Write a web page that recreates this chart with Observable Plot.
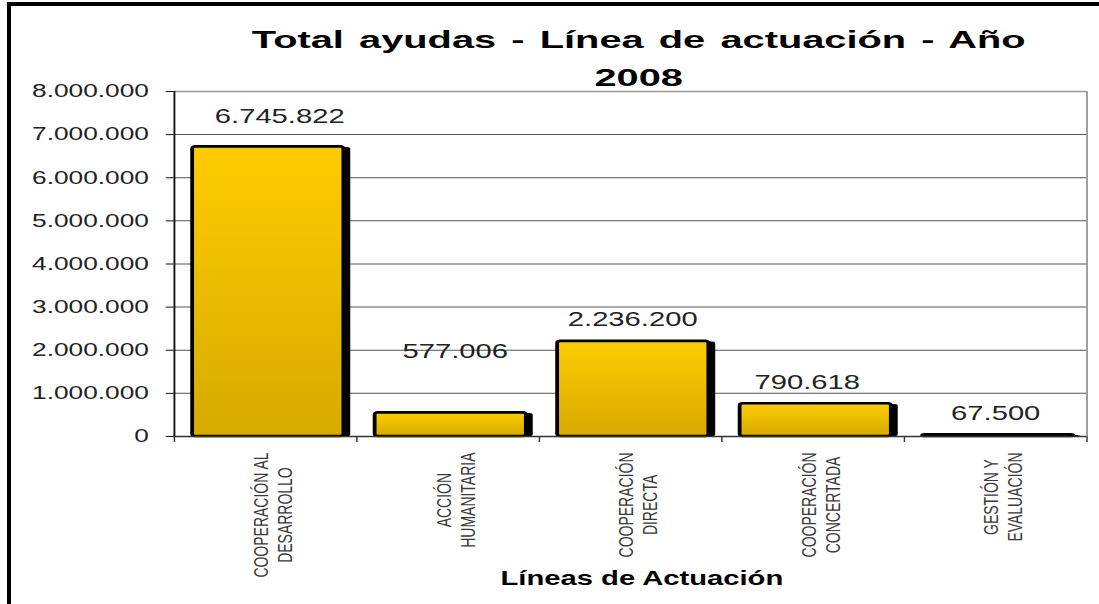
<!DOCTYPE html>
<html><head><meta charset="utf-8">
<script src="https://cdn.jsdelivr.net/npm/d3@7"></script>
<script src="https://cdn.jsdelivr.net/npm/@observablehq/plot@0.6"></script>
<style>
html,body{margin:0;padding:0;background:#fff;overflow:hidden;width:1099px;height:604px;}
#wrap{position:absolute;left:0;top:0;width:752.74px;height:604px;transform:scaleX(1.46);transform-origin:0 0;font-family:"Liberation Sans",Arial,sans-serif;}
#title{position:absolute;left:0;top:21px;width:874.6px;text-align:center;font-weight:bold;font-size:24px;line-height:38px;color:#000;z-index:2;}
#title span{display:inline-block;transform:scaleX(1.135);word-spacing:2.5px;}
#border{position:absolute;left:7px;top:2px;width:1200px;height:700px;border-top:4px solid #000;border-left:4px solid #000;}
</style></head>
<body>
<div id="border"></div>
<div id="wrap"><div id="title"><span>Total ayudas - Línea de actuación - Año<br>2008</span></div><div id="chart"></div></div>
<script>
const categories = ["Cooperación al desarrollo", "Acción humanitaria", "Cooperación directa", "Cooperación concertada", "Gestión y evaluación"];
const tickLabels = ["COOPERACIÓN AL\nDESARROLLO", "ACCIÓN\nHUMANITARIA", "COOPERACIÓN\nDIRECTA", "COOPERACIÓN\nCONCERTADA", "GESTIÓN Y\nEVALUACIÓN"];
const values = [6745822, 577006, 2236200, 790618, 67500];
const yTicks = [0, 1000000, 2000000, 3000000, 4000000, 5000000, 6000000, 7000000, 8000000];
const xTitle = "Líneas de Actuación";
// label placement tweaks (pixels) as in the original picture
const labelLift = [23, 54, 14, 13, 14];
const labelNudge = [14, 7, 2, -6, 0];

const k = 1.46;
const W = 1099 / k;
const mL = 173 / k, mR = (1099 - 1086) / k;
const step = (W - mL - mR) / categories.length;
const fmt = d3.formatLocale({decimal: ",", thousands: ".", grouping: [3], currency: ["", " €"]}).format(",d");
const data = categories.map((c, i) => ({cat: c, value: values[i]}));
const sw = 2.6;
const inL = 16.5 / k, inR = 11 / k;
const last = categories[categories.length - 1];

const plot = Plot.plot({
  width: W, height: 604,
  marginTop: 91, marginBottom: 168, marginLeft: mL, marginRight: mR,
  style: {fontFamily: "'Liberation Sans', Arial, sans-serif", background: "transparent", overflow: "visible"},
  x: {domain: categories, padding: 0},
  y: {domain: [0, 8000000]},
  marks: [
    Plot.gridY({ticks: yTicks.filter(v => v > 0 && v < 8000000), stroke: "#555", strokeOpacity: 1, strokeWidth: 1}),
    Plot.ruleY([yTicks[yTicks.length - 1]], {stroke: "#9a9a9a", strokeWidth: 1.3}),
    Plot.ruleX([last], {dx: step / 2, stroke: "#9a9a9a", strokeWidth: 1.3}),
    Plot.barY(data, {x: "cat", y: "value", fill: "#000", dx: 5 / k, dy: 2, insetLeft: inL, insetRight: inR, insetBottom: 2, rx: 2}),
    Plot.barY(data, {x: "cat", y: "value", fill: "url(#goldGrad)", stroke: "#000", strokeWidth: sw, insetLeft: inL + sw / 2, insetRight: inR + sw / 2, insetTop: sw / 2, rx: 2}),
    Plot.ruleY([0], {stroke: "#333", strokeWidth: 1.3}),
    Plot.ruleX([categories[0]], {dx: -step / 2, stroke: "#111", strokeWidth: 1.3}),
    Plot.axisY({ticks: yTicks, tickFormat: fmt, tickSize: 5, tickPadding: 12, fontSize: 18, fill: "#222", stroke: "#111", label: null}),
    Plot.axisX({tickSize: 6, tickFormat: () => "", dx: -step / 2, stroke: "#333", label: null}),
    Plot.axisX({ticks: [last], tickSize: 6, tickFormat: () => "", dx: step / 2, stroke: "#333", label: null}),
    Plot.axisX({tickSize: 0, tickPadding: 16, rotate: -90, tickFormat: d => tickLabels[categories.indexOf(d)], fontSize: 14, lineHeight: 16.5 / 14, fill: "#3a3a3a", dx: -10, label: null}),
    data.map((d, i) => Plot.text([d], {x: "cat", y: "value", text: d => fmt(d.value), dy: -labelLift[i], dx: labelNudge[i] / k, textAnchor: "middle", lineAnchor: "bottom", fontSize: 20, fill: "#222"})),
    Plot.text([xTitle], {frameAnchor: "bottom", dy: 149, dx: 8, lineAnchor: "bottom", fontSize: 20, fontWeight: "bold", fill: "#000"})
  ]
});

document.getElementById("chart").append(plot);

const defs = d3.select(plot).insert("defs", ":first-child");
const grad = defs.append("linearGradient").attr("id", "goldGrad").attr("x1", 0).attr("y1", 0).attr("x2", 0).attr("y2", 1);
grad.append("stop").attr("offset", "0%").attr("stop-color", "#FFCC00");
grad.append("stop").attr("offset", "100%").attr("stop-color", "#D6AA00");

// center the lines of each rotated tick label against each other, block starting at the axis
d3.select(plot).selectAll('g[aria-label="x-axis tick label"] text').each(function () {
  const tspans = this.querySelectorAll("tspan");
  if (!tspans.length) return;
  let L = 0;
  tspans.forEach(t => { L = Math.max(L, t.getComputedTextLength()); });
  this.setAttribute("text-anchor", "middle");
  tspans.forEach(t => t.setAttribute("x", -L / 2));
});
</script>
</body></html>
